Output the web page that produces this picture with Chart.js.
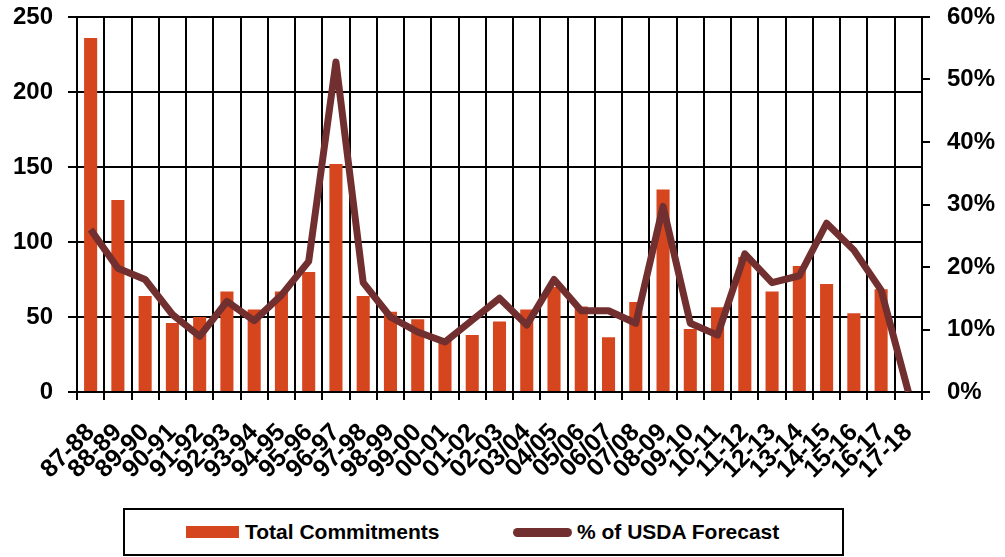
<!DOCTYPE html>
<html>
<head>
<meta charset="utf-8">
<script src="https://cdn.jsdelivr.net/npm/chart.js@4"></script>
<style>
  html, body { margin: 0; padding: 0; background: #fff; }
  #wrap { position: relative; width: 1005px; height: 557px; }
  #legend {
    position: absolute; left: 123px; top: 508px; width: 717px; height: 44px;
    border: 2px solid #000; background: #fff;
    font-family: 'Liberation Sans', Arial, sans-serif; font-weight: bold; font-size: 21px; color: #000;
  }
  #legend .item { position: absolute; top: 0; height: 44px; display: flex; align-items: center; }
  #legend .sw-bar { width: 53px; height: 12px; margin-right: 6px; }
  #legend .sw-line { width: 59px; height: 9px; border-radius: 5px; margin-right: 5px; }
</style>
</head>
<body>
<div id="wrap">
  <canvas id="chart"></canvas>
  <div id="legend">
    <div class="item" style="left:61px"><span class="sw-bar" id="sw0"></span><span>Total Commitments</span></div>
    <div class="item" style="left:388px"><span class="sw-line" id="sw1"></span><span>% of USDA Forecast</span></div>
  </div>
</div>
<script>
  const categories = ['87-88','88-89','89-90','90-91','91-92','92-93','93-94','94-95','95-96','96-97',
    '97-98','98-99','99-00','00-01','01-02','02-03','03/04','04/05','05/06','06/07','07/08','08-09',
    '09-10','10-11','11-12','12-13','13-14','14-15','15-16','16-17','17-18'];

  // Total Commitments (left axis)
  const commitments = [236, 128, 64, 46, 50, 67, 55, 67, 80, 152, 64, 53.5, 48.5, 35, 38, 47,
    55, 70, 57, 36.5, 60, 135, 42, 56.5, 90, 67, 84, 72, 52.5, 68.5, 0];

  // % of USDA Forecast (right axis)
  const pctUsda = [26.0, 19.8, 18.0, 12.4, 8.9, 14.5, 11.4, 15.5, 20.9, 52.8, 17.5, 12.0, 9.6, 8.0,
    11.5, 15.0, 10.7, 18.0, 13.0, 13.0, 11.0, 29.7, 11.0, 9.1, 22.1, 17.5, 18.6, 27.0, 22.7, 16.3, 0];

  const leftTicks = [0, 50, 100, 150, 200, 250];
  const rightTicks = [0, 10, 20, 30, 40, 50, 60];

  const BAR_COLOR = '#D6461E';
  const LINE_COLOR = '#712F2F';
  const FONT = "'Liberation Sans', Arial, sans-serif";

  document.getElementById('sw0').style.background = BAR_COLOR;
  document.getElementById('sw1').style.background = LINE_COLOR;

  // fixed axis sizes so the plot area lands where the reference has it
  function fitSide(width) {
    return s => {
      s.width = width;
      s.paddingTop = 0;
      s.paddingBottom = 0;
    };
  }

  const ctx = document.getElementById('chart').getContext('2d');
  new Chart(ctx, {
    type: 'bar',
    data: {
      labels: categories,
      datasets: [
        {
          type: 'bar',
          label: 'Total Commitments',
          data: commitments,
          backgroundColor: BAR_COLOR,
          barPercentage: 0.48,
          categoryPercentage: 1,
          yAxisID: 'y',
          order: 2
        },
        {
          type: 'line',
          label: '% of USDA Forecast',
          data: pctUsda,
          borderColor: LINE_COLOR,
          backgroundColor: LINE_COLOR,
          borderWidth: 7,
          borderJoinStyle: 'round',
          pointRadius: 0,
          tension: 0,
          fill: false,
          yAxisID: 'y1',
          order: 1
        }
      ]
    },
    options: {
      responsive: true,
      maintainAspectRatio: false,
      animation: false,
      layout: { padding: { top: 17, left: 0, right: 0, bottom: 0 } },
      plugins: {
        legend: { display: false },
        tooltip: { enabled: false }
      },
      scales: {
        x: {
          grid: { color: '#000', lineWidth: 2, tickLength: 8, offset: true },
          border: { color: '#000', width: 2 },
          ticks: {
            color: '#000',
            font: { family: FONT, size: 25, weight: 'bold' },
            minRotation: 45,
            maxRotation: 45,
            autoSkip: false,
            padding: 18
          },
          afterFit: s => { s.height = 165; }
        },
        y: {
          position: 'left',
          min: 0,
          max: 250,
          afterBuildTicks: s => { s.ticks = leftTicks.map(v => ({ value: v })); },
          grid: { color: '#000', lineWidth: 2, tickLength: 9 },
          border: { color: '#000', width: 2 },
          ticks: {
            color: '#000',
            padding: 15,
            font: { family: FONT, size: 24, weight: 'bold' }
          },
          afterFit: fitSide(77)
        },
        y1: {
          position: 'right',
          min: 0,
          max: 60,
          afterBuildTicks: s => { s.ticks = rightTicks.map(v => ({ value: v })); },
          grid: { drawOnChartArea: false, color: '#000', lineWidth: 2, tickLength: 8 },
          border: { color: '#000', width: 2 },
          ticks: {
            color: '#000',
            padding: 17,
            font: { family: FONT, size: 24, weight: 'bold' },
            callback: v => v + '%'
          },
          afterFit: fitSide(83)
        }
      }
    }
  });
</script>
</body>
</html>
